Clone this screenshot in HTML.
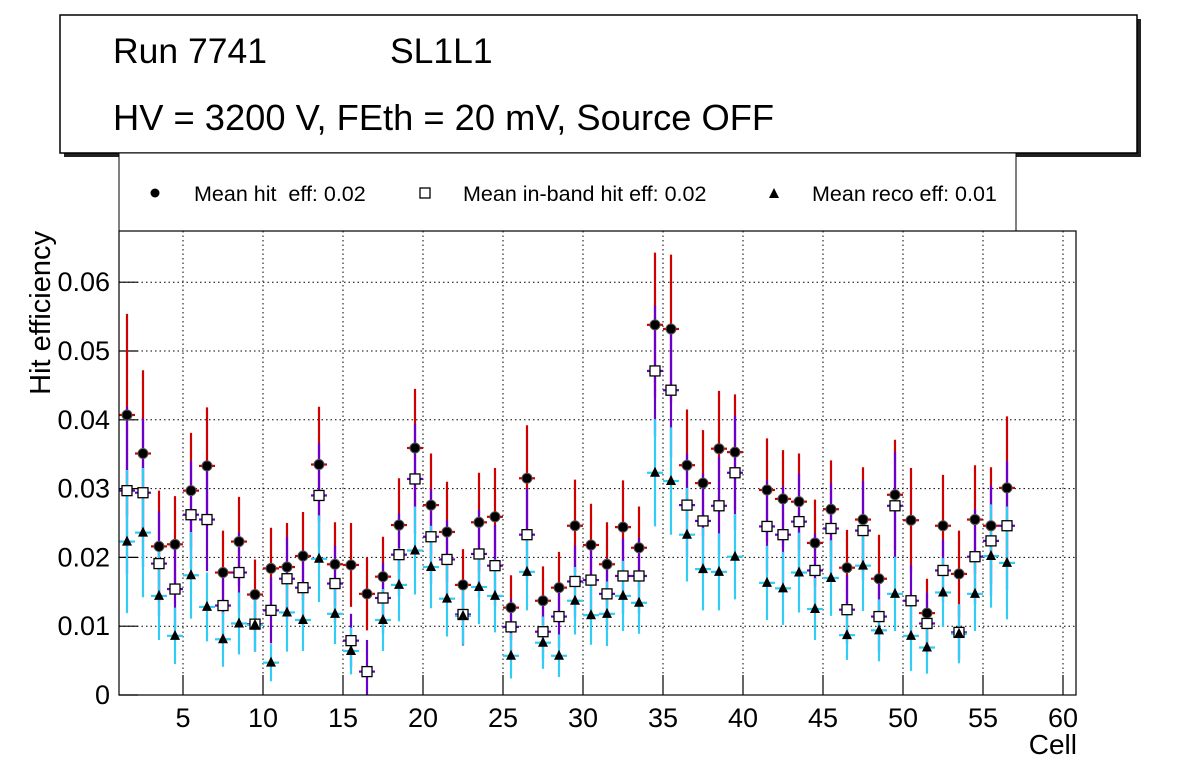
<!DOCTYPE html>
<html><head><meta charset="utf-8">
<style>
body{margin:0;background:#fff;}
svg{display:block;font-family:"Liberation Sans",sans-serif;}
</style></head>
<body>
<svg id="chart" width="1196" height="772" viewBox="0 0 1196 772">
  <rect x="64" y="19" width="1077" height="138" fill="#222"/>
  <rect x="60" y="15" width="1077" height="138" fill="#fff" stroke="#000" stroke-width="1.5"/>
  <text x="113" y="63" font-size="35.5">Run 7741</text>
  <text x="390" y="63" font-size="35.5">SL1L1</text>
  <text x="113" y="130" font-size="36.3">HV = 3200 V, FEth = 20 mV, Source OFF</text>
  <rect x="119" y="153" width="897" height="78" fill="#fff" stroke="#000" stroke-width="1"/>
  <g>
    <circle cx="155" cy="193" r="4.5" fill="#000"/>
    <text x="194" y="201" font-size="21.5" style="white-space:pre" xml:space="preserve">Mean hit  eff: 0.02</text>
  </g>
  <g>
    <rect x="420" y="188" width="10" height="10" fill="#fff" stroke="#000" stroke-width="1.3"/>
    <text x="463" y="201" font-size="21.5">Mean in-band hit eff: 0.02</text>
  </g>
  <g>
    <polygon points="774,188 769,198 779,198" fill="#000"/>
    <text x="812" y="201" font-size="21.5">Mean reco eff: 0.01</text>
  </g>
  <g id="grid"></g>
  <g id="axes"></g>
  <g id="marks"></g>
  <rect x="119" y="231" width="957" height="464" fill="none" stroke="#000" stroke-width="1.2"/>
  <text x="50" y="231" font-size="29" text-anchor="end" transform="rotate(-90 50 231)">Hit efficiency</text>
  <text x="1077" y="754" font-size="28" text-anchor="end">Cell</text>
</svg>
<script>
const cells = [1,2,3,4,5,6,7,8,9,10,11,12,13,14,15,16,17,18,19,20,21,22,23,24,25,26,27,28,29,30,31,32,33,34,35,36,37,38,39,41,42,43,44,45,46,47,48,49,50,51,52,53,54,55,56];
const hitEff = [0.0407,0.0351,0.0216,0.0219,0.0297,0.0333,0.0178,0.0223,0.0146,0.0184,0.0186,0.0202,0.0335,0.0190,0.0189,0.0147,0.0172,0.0247,0.0359,0.0276,0.0237,0.0160,0.0251,0.0259,0.0127,0.0315,0.0137,0.0156,0.0246,0.0218,0.0190,0.0244,0.0214,0.0538,0.0532,0.0334,0.0308,0.0358,0.0353,0.0298,0.0285,0.0281,0.0221,0.0270,0.0185,0.0255,0.0169,0.0291,0.0254,0.0119,0.0246,0.0176,0.0255,0.0246,0.0301];
const hitErr = [0.0147,0.0121,0.0081,0.0070,0.0084,0.0085,0.0061,0.0065,0.0051,0.0059,0.0064,0.0064,0.0084,0.0061,0.0061,0.0053,0.0058,0.0068,0.0086,0.0075,0.0073,0.0052,0.0072,0.0071,0.0047,0.0077,0.0050,0.0052,0.0067,0.0060,0.0061,0.0068,0.0060,0.0105,0.0108,0.0081,0.0077,0.0084,0.0084,0.0075,0.0071,0.0070,0.0063,0.0071,0.0055,0.0076,0.0064,0.0080,0.0076,0.0050,0.0074,0.0063,0.0079,0.0085,0.0104];
const bandEff = [0.0297,0.0294,0.0191,0.0154,0.0262,0.0255,0.0130,0.0178,0.0103,0.0123,0.0169,0.0156,0.0290,0.0162,0.0079,0.0034,0.0141,0.0204,0.0314,0.0230,0.0197,0.0117,0.0205,0.0188,0.0099,0.0233,0.0092,0.0114,0.0165,0.0167,0.0147,0.0173,0.0173,0.0471,0.0443,0.0276,0.0253,0.0275,0.0323,0.0245,0.0233,0.0252,0.0181,0.0242,0.0124,0.0239,0.0114,0.0275,0.0137,0.0104,0.0181,0.0091,0.0201,0.0224,0.0246];
const bandErr = [0.0122,0.0108,0.0076,0.0058,0.0078,0.0075,0.0050,0.0058,0.0040,0.0048,0.0061,0.0055,0.0076,0.0055,0.0039,0.0046,0.0051,0.0060,0.0080,0.0069,0.0057,0.0045,0.0064,0.0059,0.0040,0.0067,0.0040,0.0045,0.0052,0.0052,0.0052,0.0055,0.0055,0.0095,0.0097,0.0075,0.0069,0.0071,0.0083,0.0067,0.0070,0.0070,0.0054,0.0066,0.0050,0.0072,0.0051,0.0078,0.0052,0.0045,0.0045,0.0040,0.0069,0.0080,0.0094];
const recoEff = [0.0223,0.0236,0.0144,0.0086,0.0174,0.0128,0.0081,0.0104,0.0102,0.0047,0.0120,0.0109,0.0198,0.0118,0.0064,null,0.0109,0.0160,0.0210,0.0186,0.0140,0.0115,0.0157,0.0144,0.0057,0.0179,0.0076,0.0057,0.0137,0.0116,0.0118,0.0144,0.0134,0.0323,0.0311,0.0233,0.0183,0.0179,0.0201,0.0163,0.0155,0.0178,0.0125,0.0170,0.0087,0.0188,0.0094,0.0147,0.0086,0.0069,0.0149,0.0089,0.0147,0.0202,0.0192];
const recoErr = [0.0104,0.0094,0.0064,0.0041,0.0063,0.0050,0.0040,0.0045,0.0039,0.0027,0.0057,0.0045,0.0063,0.0044,0.0034,null,0.0045,0.0053,0.0064,0.0060,0.0055,0.0042,0.0054,0.0053,0.0033,0.0056,0.0038,0.0031,0.0049,0.0043,0.0047,0.0051,0.0045,0.0078,0.0078,0.0068,0.0060,0.0056,0.0062,0.0054,0.0053,0.0058,0.0045,0.0055,0.0036,0.0066,0.0045,0.0054,0.0051,0.0038,0.0050,0.0043,0.0054,0.0075,0.0082];
const yTicks = [0,0.01,0.02,0.03,0.04,0.05,0.06];
const yTickLabels = ["0","0.01","0.02","0.03","0.04","0.05","0.06"];
const xTicks = [5,10,15,20,25,30,35,40,45,50,55,60];

const X0=119,X1=1076,Y0=695,Y1=231,XMIN=1,XMAX=60.8125,YMIN=0,YMAX=0.06744;
const sx=v=>X0+(v-XMIN)/(XMAX-XMIN)*(X1-X0);
const sy=v=>Y0-(v-YMIN)/(YMAX-YMIN)*(Y0-Y1);
const NS="http://www.w3.org/2000/svg";
function mk(tag,attrs,parent){const e=document.createElementNS(NS,tag);for(const k in attrs)e.setAttribute(k,attrs[k]);parent.appendChild(e);return e;}
const grid=document.getElementById('grid'),axes=document.getElementById('axes'),marks=document.getElementById('marks');

yTicks.forEach((t,i)=>{
  const y=sy(t);
  if(t>0){const g=mk('line',{x1:X0,x2:X1,y1:y,y2:y,stroke:'#000','stroke-width':1,'stroke-dasharray':'1.5,3'},grid);
  
  }
  const tk=mk('line',{x1:X0,x2:X0+19,y1:y,y2:y,stroke:'#000','stroke-width':1.2},axes);
  
  
  const lb=mk('text',{x:110,y:y+9,'font-size':27,'text-anchor':'end'},axes);
  lb.textContent=yTickLabels[i];
  
  
});
xTicks.forEach(t=>{
  const x=sx(t);
  const g=mk('line',{x1:x,x2:x,y1:Y1,y2:Y0,stroke:'#000','stroke-width':1,'stroke-dasharray':'1.5,3'},grid);
  
  
  const tk=mk('line',{x1:x,x2:x,y1:Y0,y2:Y0-20,stroke:'#000','stroke-width':1.2},axes);
  
  
  const lb=mk('text',{x:x,y:727,'font-size':27,'text-anchor':'middle'},axes);
  lb.textContent=String(t);
  
  
});

function bars(vals,errs,color,name){
  cells.forEach((c,i)=>{
    const v=vals[i],e=errs[i];
    if(v==null)return;
    const x=sx(c+0.5),y=sy(v);
    const vl=mk('line',{x1:x,x2:x,y1:sy(v+e),y2:sy(Math.max(0,v-e)),stroke:color,'stroke-width':2.2},marks);
    
    
    const hl=mk('line',{x1:sx(c),x2:sx(c+1),y1:y,y2:y,stroke:color,'stroke-width':2.2},marks);
    
    
  });
}
bars(hitEff,hitErr,'#d00000','hit');
bars(bandEff,bandErr,'#6a00cc','inband');
bars(recoEff,recoErr,'#33ccf5','reco');

cells.forEach((c,i)=>{
  const x=sx(c+0.5);
  const p=mk('circle',{cx:x,cy:sy(hitEff[i]),r:5,fill:'#000',stroke:'#555','stroke-width':1},marks);
  
  
  const s=mk('rect',{x:x-5,y:sy(bandEff[i])-5,width:10,height:10,fill:'#fff',stroke:'#000','stroke-width':1.3},marks);
  
  
  if(recoEff[i]!=null){
    const y=sy(recoEff[i]);
    const t=mk('polygon',{points:`${x},${y-6} ${x-5},${y+4} ${x+5},${y+4}`,fill:'#000'},marks);
    
    
  }
});
</script>
</body></html>
